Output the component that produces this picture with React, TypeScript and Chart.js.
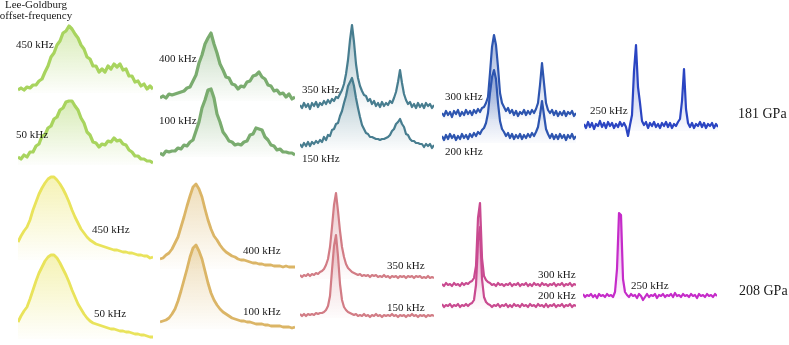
import React, { useEffect, useRef } from "react";
import { Chart, registerables } from "chart.js";
Chart.register(...registerables);

// ---- 181 GPa row (intensity above each trace's own floor) ----
const p181_450 = [3,5,3,6,5,8,8,12,14,21,27,36,40,48,52,60,62,67,64,59,55,48,44,36,34,27,27,21,24,21,27,24,29,26,29,23,24,17,17,11,12,7,9,4,7,4];
const p181_50 = [8,6,10,8,13,13,19,21,29,30,37,39,46,48,55,57,63,64,64,59,55,47,42,33,30,23,22,18,21,20,24,23,27,24,25,21,20,15,13,9,9,6,6,4,4,2];
const p181_400 = [3,5,3,7,6,7,8,9,10,13,14,20,26,38,46,57,63,68,57,48,37,31,24,23,17,16,12,15,14,19,20,25,26,29,24,22,16,15,10,11,7,8,4,7,2,4];
const p181_100 = [4,2,6,5,6,6,9,8,12,11,15,17,26,35,49,57,67,68,59,43,35,25,21,16,15,12,13,12,15,16,22,23,29,28,27,20,17,12,11,7,8,5,5,4,4,2];
const p181_350 = [5,2,7,3,6,1,7,4,8,3,7,5,9,6,10,7,11,9,13,12,16,20,26,36,50,70,85,68,46,32,24,19,15,14,9,11,6,9,4,7,3,8,4,7,5,9,7,12,18,28,40,27,16,10,6,8,3,6,2,7,3,6,2,7,4,6,2,5];
const p181_150 = [6,3,7,4,8,4,8,6,9,7,10,8,13,10,15,14,20,21,26,27,34,39,47,54,64,68,72,64,52,42,33,25,21,17,16,13,13,12,11,11,10,11,11,12,13,15,19,21,26,28,31,26,23,16,15,11,9,9,7,7,6,6,3,6,4,6,2,5];
const p181_300 = [6,3,8,4,7,2,8,5,9,3,7,4,9,5,8,4,9,6,10,7,11,12,16,22,46,72,84,74,52,26,16,12,8,11,6,9,4,8,3,7,5,9,4,8,5,9,6,10,16,34,56,36,16,9,6,9,4,8,3,7,4,8,3,7,5,8,3,6];
const p181_200 = [7,3,8,4,9,5,8,3,7,4,9,5,8,4,9,6,10,7,11,9,13,15,20,30,50,66,73,64,40,22,14,11,7,10,5,9,4,8,5,9,4,8,5,9,6,10,7,11,16,28,42,28,14,9,5,9,4,8,4,9,5,8,3,8,5,9,4,7];
const p181_250 = [7,3,9,4,8,2,7,5,10,4,8,3,9,5,8,3,7,4,9,5,8,4,-5,6,16,60,86,44,28,10,6,9,3,8,5,9,4,7,3,8,5,9,4,8,3,7,5,9,12,30,62,22,8,4,8,3,7,5,9,4,8,3,7,5,8,3,7,4];

// ---- 208 GPa row ----
const p208_450 = [18,24,29,33,40,50,58,66,72,77,81,83,83,80,76,71,65,58,50,43,37,31,27,23,20,18,16,15,14,13,12,11,10,10,9,8,8,7,7,6,5,5,4,4,2,3];
const p208_50 = [17,23,28,32,40,49,58,66,72,78,82,84,84,81,76,70,64,57,49,42,35,30,25,21,18,16,15,14,13,12,11,10,10,9,8,8,7,7,6,5,5,4,4,3,2,2];
const p208_400 = [10,11,14,16,20,26,32,42,52,63,73,82,85,80,72,60,49,40,33,29,24,20,17,15,13,12,10,9,9,8,7,6,6,5,5,4,4,4,3,3,3,2,3,2,2,2];
const p208_100 = [7,8,9,11,15,20,28,38,49,60,72,81,84,78,70,58,46,36,29,24,20,17,15,13,11,10,9,8,8,7,7,6,5,5,5,4,4,3,3,3,3,2,2,2,1,2];
const p208_350 = [4,2,4,3,5,3,5,4,6,5,7,8,10,14,20,32,52,74,86,68,48,32,22,15,11,9,7,6,5,4,5,3,4,3,4,2,4,3,4,2,3,2,4,2,3,1,3,2,3,1,3,2,3,1,3,2,3,1,3,2,3,1,2,1,3,1,2,1];
const p208_150 = [4,2,4,2,4,3,4,3,5,4,5,5,6,8,12,22,48,72,83,62,34,18,11,8,6,5,4,3,4,2,3,2,4,2,3,1,3,2,4,2,3,1,3,2,3,2,4,2,3,1,3,2,3,1,3,2,4,2,3,1,3,2,3,1,3,2,3,2];
const p208_300 = [4,2,5,3,4,2,5,3,4,2,5,3,5,4,6,7,10,22,70,85,30,12,8,6,5,3,4,2,5,3,4,2,4,3,5,2,4,3,5,2,4,3,5,2,4,2,5,3,4,2,5,3,4,2,4,3,5,2,4,3,5,2,4,3,5,2,4,3];
const p208_200 = [5,2,4,3,5,2,4,3,5,2,4,3,5,3,5,6,9,24,68,82,30,12,7,5,4,2,4,3,5,2,4,3,5,2,4,2,5,3,4,2,5,3,4,2,5,3,4,2,5,3,4,2,5,2,4,3,5,2,4,3,5,2,4,3,5,2,4,3];
const p208_250 = [5,2,4,3,5,2,4,1,5,3,4,2,5,3,4,2,7,30,86,84,20,7,4,2,5,3,4,1,5,3,-1,2,5,2,4,3,5,1,4,3,5,2,4,3,5,2,6,3,4,2,5,3,4,2,5,3,4,1,5,3,4,2,5,3,4,2,5,3];

// stacking offsets of each trace within its panel
const offsets181 = { a450: 77, a50: 5, a400: 69, a100: 13, a350: 60, a150: 20, a300: 51, a200: 27, a250: 39 };
const offsets208 = { a450: 85, a50: 6, a400: 76, a100: 16, a350: 66, a150: 27, a300: 57, a200: 36, a250: 46 };

const kHzLabels = [
  { text: "450 kHz", x: 16, y: 48 },
  { text: "50 kHz", x: 16, y: 138 },
  { text: "400 kHz", x: 159, y: 62 },
  { text: "100 kHz", x: 159, y: 124 },
  { text: "350 kHz", x: 302, y: 93 },
  { text: "150 kHz", x: 302, y: 162 },
  { text: "300 kHz", x: 445, y: 100 },
  { text: "200 kHz", x: 445, y: 155 },
  { text: "250 kHz", x: 590, y: 114 },
  { text: "450 kHz", x: 92, y: 233 },
  { text: "50 kHz", x: 94, y: 317 },
  { text: "400 kHz", x: 243, y: 254 },
  { text: "100 kHz", x: 243, y: 315 },
  { text: "350 kHz", x: 387, y: 269 },
  { text: "150 kHz", x: 387, y: 311 },
  { text: "300 kHz", x: 538, y: 278 },
  { text: "200 kHz", x: 538, y: 299 },
  { text: "250 kHz", x: 631, y: 289 },
];
const pressureLabels = [
  { text: "181 GPa", x: 738, y: 119 },
  { text: "208 GPa", x: 739, y: 296 },
];
const headerLines = ["Lee-Goldburg", "offset-frequency"];

type Spectrum = { values: number[]; offset: number };
type Panel = { left: number; top: number; width: number; height: number; color: string; lineWidth: number; spectra: Spectrum[] };

const panels: Panel[] = [
  { left: 18, top: 0, width: 135, height: 170, color: "#a8d45e", lineWidth: 3.2, spectra: [
    { values: p181_450, offset: offsets181.a450 }, { values: p181_50, offset: offsets181.a50 }] },
  { left: 160, top: 0, width: 135, height: 170, color: "#7aac6f", lineWidth: 3.2, spectra: [
    { values: p181_400, offset: offsets181.a400 }, { values: p181_100, offset: offsets181.a100 }] },
  { left: 300, top: 0, width: 134, height: 170, color: "#477d8f", lineWidth: 2.2, spectra: [
    { values: p181_350, offset: offsets181.a350 }, { values: p181_150, offset: offsets181.a150 }] },
  { left: 442, top: 0, width: 134, height: 170, color: "#2d55b0", lineWidth: 2.2, spectra: [
    { values: p181_300, offset: offsets181.a300 }, { values: p181_200, offset: offsets181.a200 }] },
  { left: 584, top: 0, width: 134, height: 170, color: "#2b45c2", lineWidth: 2.2, spectra: [
    { values: p181_250, offset: offsets181.a250 }] },
  { left: 18, top: 170, width: 135, height: 175, color: "#e9e35b", lineWidth: 2.8, spectra: [
    { values: p208_450, offset: offsets208.a450 }, { values: p208_50, offset: offsets208.a50 }] },
  { left: 160, top: 170, width: 135, height: 175, color: "#dbb566", lineWidth: 2.8, spectra: [
    { values: p208_400, offset: offsets208.a400 }, { values: p208_100, offset: offsets208.a100 }] },
  { left: 300, top: 170, width: 134, height: 175, color: "#d27c85", lineWidth: 2.2, spectra: [
    { values: p208_350, offset: offsets208.a350 }, { values: p208_150, offset: offsets208.a150 }] },
  { left: 442, top: 170, width: 134, height: 175, color: "#c94a90", lineWidth: 2.2, spectra: [
    { values: p208_300, offset: offsets208.a300 }, { values: p208_200, offset: offsets208.a200 }] },
  { left: 583, top: 170, width: 134, height: 175, color: "#c52bc9", lineWidth: 2.2, spectra: [
    { values: p208_250, offset: offsets208.a250 }] },
];

function rgba(hex: string, a: number) {
  const n = parseInt(hex.slice(1), 16);
  return `rgba(${(n >> 16) & 255},${(n >> 8) & 255},${n & 255},${a})`;
}

function PanelChart({ panel }: { panel: Panel }) {
  const ref = useRef<HTMLCanvasElement>(null);
  useEffect(() => {
    const canvas = ref.current!;
    const n = panel.spectra[0].values.length;
    const chart = new Chart(canvas, {
      type: "line",
      data: {
        datasets: panel.spectra.map((s) => ({
          data: s.values.map((v, i) => ({ x: i, y: v + s.offset })),
          borderColor: panel.color,
          borderWidth: panel.lineWidth,
          borderJoinStyle: "round",
          pointRadius: 0,
          tension: 0,
          clip: false,
          fill: { value: s.offset },
          backgroundColor: (ctx: any) => {
            const c = ctx.chart;
            if (!c.chartArea) return "transparent";
            const ys = c.scales.y;
            const top = ys.getPixelForValue(s.offset + Math.max(...s.values));
            const bottom = ys.getPixelForValue(s.offset);
            const g = c.ctx.createLinearGradient(0, top, 0, bottom);
            g.addColorStop(0, rgba(panel.color, 0.45));
            g.addColorStop(1, rgba(panel.color, 0.02));
            return g;
          },
        })),
      },
      options: {
        animation: false,
        responsive: false,
        maintainAspectRatio: false,
        events: [],
        layout: { padding: 0 },
        plugins: { legend: { display: false }, tooltip: { enabled: false }, title: { display: false } },
        scales: {
          x: { type: "linear", min: 0, max: n - 1, display: false },
          y: { type: "linear", min: 0, max: panel.height, display: false },
        },
      } as any,
    } as any);
    return () => chart.destroy();
  }, [panel]);
  return (
    <canvas
      ref={ref}
      width={panel.width}
      height={panel.height}
      style={{ position: "absolute", left: panel.left, top: panel.top, width: panel.width, height: panel.height }}
    />
  );
}

const serif = '"Liberation Serif", "Times New Roman", serif';

export default function App() {
  return (
    <div style={{ position: "absolute", left: 0, top: 0, width: 789, height: 345, background: "#fff", overflow: "hidden", fontFamily: serif }}>
      {panels.map((p, i) => (
        <PanelChart key={i} panel={p} />
      ))}
      {headerLines.map((t, i) => (
        <div key={"h" + i} style={{ position: "absolute", left: -4, width: 80, top: (i === 0 ? 8 : 19) - 9, fontSize: 11, lineHeight: "11px", textAlign: "center", whiteSpace: "nowrap", color: "#1a1a1a" }}>{t}</div>
      ))}
      {kHzLabels.map((l, i) => (
        <div key={"k" + i} style={{ position: "absolute", left: l.x, top: l.y - 9, fontSize: 11, lineHeight: "11px", whiteSpace: "nowrap", color: "#1a1a1a" }}>{l.text}</div>
      ))}
      {pressureLabels.map((l, i) => (
        <div key={"p" + i} style={{ position: "absolute", left: l.x, top: l.y - 12, fontSize: 14, lineHeight: "14px", whiteSpace: "nowrap", color: "#1a1a1a" }}>{l.text}</div>
      ))}
    </div>
  );
}
